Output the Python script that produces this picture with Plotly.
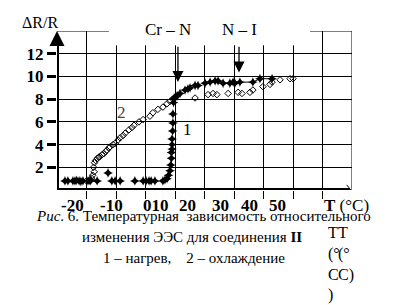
import plotly.graph_objects as go

# ---- data (T in °C, ΔR/R) ----
heat_T = [-17.3, -16.3, -14.6, -13.9, -13.3, -12.5, -11.9, -11.2, -9.5, -8.8, -8.5, -6.4,
          -2.7, -1.4, -0.3, 1.4, 6.4, 9.2, 10.2, 11.2, 11.9, 13.2, 15.9, 16.6, 17.3, 17.8,
          18.3, 18.6, 18.8, 18.8, 19.0, 19.0, 19.0, 19.2, 19.3, 19.3, 19.5, 19.7,
          20.2, 20.7, 21.7, 23.4, 24.4, 25.1, 26.8, 27.8, 30.2, 31.9, 33.6, 34.6, 36.3,
          38.6, 39.7, 40.3, 42.0, 46.4, 48.8, 52.9]
heat_R = [0.8, 0.8, 0.8, 0.8, 0.85, 0.8, 0.75, 0.8, 0.8, 0.8, 0.9, 0.8,
          1.5, 0.8, 0.8, 0.8, 0.8, 0.8, 0.8, 0.8, 0.8, 0.8, 0.8, 0.9, 1.0, 1.3,
          1.7, 2.2, 2.8, 3.3, 3.6, 4.0, 4.5, 5.2, 5.9, 6.7, 7.7, 8.1,
          8.2, 8.3, 8.5, 8.8, 8.9, 9.0, 9.2, 9.2, 9.4, 9.5, 9.6, 9.6, 9.4,
          9.4, 9.5, 9.4, 9.5, 9.5, 9.8, 9.8]
cool_T = [-10.0, -8.8, -8.3, -7.9, -7.4, -7.6, -7.3, -6.9, -6.3, -5.8,
          -5.4, -4.8, -4.1, -3.5, -3.1, -2.4, -2.0, -1.0, -0.3, 0.7, 1.4, 2.4, 3.1, 4.4,
          5.4, 6.1, 7.8, 9.2,
          11.5, 12.5, 14.2, 15.9, 17.3, 18.3, 19.3, 20.0,
          26.8, 31.2, 32.9, 34.2, 38.0, 41.4, 42.7, 45.4, 46.4, 49.8, 52.2, 52.9, 55.6,
          59.0, 60.0]
cool_R = [0.8, 0.8, 1.05, 1.3, 1.6, 2.0, 2.4, 2.6, 2.8, 2.9,
          2.95, 3.1, 3.2, 3.4, 3.5, 3.7, 3.8, 4.0, 4.1, 4.4, 4.6, 4.8, 5.0, 5.3,
          5.5, 5.7, 6.0, 6.2,
          6.5, 6.8, 7.1, 7.3, 7.6, 7.8, 8.0, 8.1,
          8.1, 8.4, 8.5, 8.4, 8.5, 8.6, 8.5, 8.6, 8.8, 9.1, 9.3, 9.5, 9.7,
          9.8, 9.8]

x_grid_vals = [-10, 0, 10, 20, 30, 40, 50, 60, 70]
y_tick_vals = [2, 4, 6, 8, 10, 12]
x_label_text = ["-20", "-10", "010", "20", "30", "40", "50"]
x_label_pos = [-14.9, -1.4, 13.6, 24.4, 35.3, 45.1, 54.9]
transitions = ["Cr – N", "N – I"]
transition_T = [21.0, 41.7]
transition_tip = [9.5, 10.35]

SERIF = "Liberation Serif, Times New Roman, serif"
W, H = 397, 305
L, R, T, B = 57, 45, 31, 115


def px(x):
    return (x - L) / (W - L - R)


def py(y):
    return (H - B - y) / (H - T - B)


def label(x, y, text, size, color="black", xanchor="center", yanchor="middle", **kw):
    d = dict(x=px(x), y=py(y), xref="paper", yref="paper", text=text, showarrow=False,
             xanchor=xanchor, yanchor=yanchor,
             font=dict(family=SERIF, size=size, color=color))
    d.update(kw)
    return d


fig = go.Figure()

fig.add_trace(go.Scatter(x=cool_T, y=cool_R, mode="markers",
                         marker=dict(symbol="diamond-open", size=5, color="black",
                                     line=dict(width=1, color="black")),
                         showlegend=False))
line_T = [t for t in heat_T if t >= 31]
line_R = [r for t, r in zip(heat_T, heat_R) if t >= 31]
fig.add_trace(go.Scatter(x=line_T, y=line_R, mode="lines",
                         line=dict(color="black", width=1), showlegend=False))
fig.add_trace(go.Scatter(x=heat_T, y=heat_R, mode="markers",
                         marker=dict(symbol="star-diamond", size=7, color="black"),
                         showlegend=False))

shapes = [
    dict(type="line", xref="x", yref="y", x0=-20, x1=80, y0=14, y1=14,
         line=dict(color="black", width=1)),
    dict(type="line", xref="x", yref="y", x0=80, x1=80, y0=0, y1=14,
         line=dict(color="black", width=1)),
    dict(type="rect", xref="x", yref="y", x0=-2.4, x1=65.8, y0=12.75, y1=14.6,
         fillcolor="white", line=dict(width=0), layer="above"),
    dict(type="line", xref="x", yref="y", x0=-20, x1=79.3, y0=0, y1=0,
         line=dict(color="black", width=4)),
    dict(type="line", xref="x", yref="y", x0=-20, x1=-20, y0=-0.15, y1=13.3,
         line=dict(color="black", width=4)),
    dict(type="path", xref="x", yref="y", path="M 78.2 0.45 L 79.6 0 L 78.2 -0.45",
         line=dict(color="black", width=1)),
]

ann = []
ann.append(dict(x=-20, y=14, ax=-20, ay=12.8, xref="x", yref="y", axref="x", ayref="y",
                showarrow=True, arrowhead=2, arrowsize=1, arrowwidth=3, arrowcolor="black",
                text=""))
for name, t, tip in zip(transitions, transition_T, transition_tip):
    ann.append(dict(x=t, y=tip, ax=t, ay=12.75, xref="x", yref="y", axref="x", ayref="y",
                    showarrow=True, arrowhead=2, arrowsize=1.7, arrowwidth=1.3,
                    arrowcolor="black", text=""))
ann.append(label(168, 29, transitions[0], 17))
ann.append(label(239, 29, transitions[1], 17))
ann.append(label(40, 22, "ΔR/R", 16))
ann.append(dict(x=24.4, y=5.3, xref="x", yref="y", text="1", showarrow=False,
                xanchor="center", yanchor="middle",
                font=dict(family=SERIF, size=17, color="black")))
ann.append(dict(x=1.7, y=6.8, xref="x", yref="y", text="2", showarrow=False,
                xanchor="center", yanchor="middle",
                font=dict(family=SERIF, size=17, color="#444444")))
for txt, pos in zip(x_label_text, x_label_pos):
    ann.append(dict(x=pos, y=py(205), xref="x", yref="paper", text="<b>%s</b>" % txt,
                    showarrow=False, xanchor="center", yanchor="middle",
                    font=dict(family=SERIF, size=17, color="black")))
ann.append(label(322, 205, "<b>T</b> (°C)", 17, xanchor="left"))
ann.append(label(203, 216, "<i>Рис</i>. 6. Температурная  зависимость относительного", 15))
ann.append(label(192, 237, "изменения ЭЭС для соединения <b>II</b>", 15))
ann.append(label(194, 258, "1 – нагрев,    2 – охлаждение", 15))
ann.append(label(326, 222, "T<br>(°<br>C<br>)", 16, xanchor="left", yanchor="top", align="left"))
ann.append(label(336, 222, "T<br>(°<br>C)", 16, xanchor="left", yanchor="top", align="left"))

fig.update_layout(
    width=W, height=H,
    margin=dict(l=L, r=R, t=T, b=B, pad=0),
    paper_bgcolor="white", plot_bgcolor="white",
    showlegend=False,
    shapes=shapes, annotations=ann,
    xaxis=dict(range=[-20, 80], tickvals=x_grid_vals, showticklabels=False,
               showgrid=True, gridcolor="black", gridwidth=1, zeroline=False,
               ticks="outside", ticklen=8, tickwidth=1, tickcolor="black",
               showline=False, fixedrange=True),
    yaxis=dict(range=[0, 14], tickvals=y_tick_vals, ticktext=["<b>%d</b>" % v for v in y_tick_vals],
               showgrid=True, gridcolor="black", gridwidth=1, zeroline=False,
               ticks="outside", ticklen=9, tickwidth=3, tickcolor="black",
               tickfont=dict(family=SERIF, size=17, color="black"),
               showline=False, fixedrange=True),
)

fig.write_html("out.html", config={"displayModeBar": False})
